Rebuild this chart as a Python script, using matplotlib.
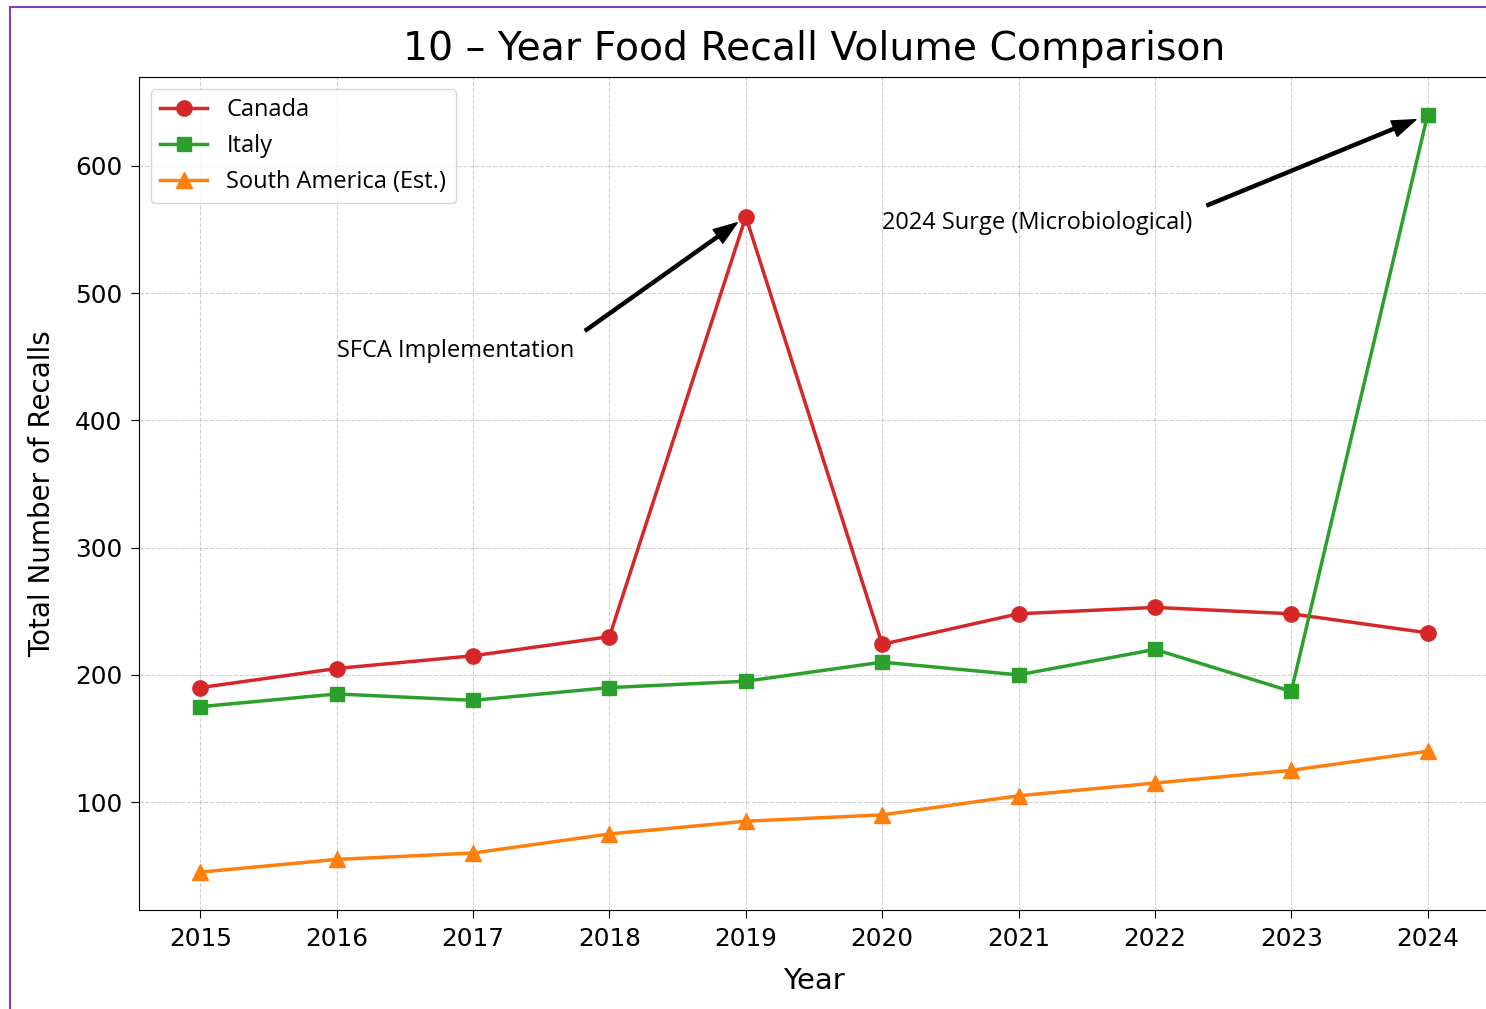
import matplotlib
matplotlib.use("Agg")
import matplotlib.pyplot as plt
from matplotlib.patches import Rectangle

plt.rcParams['font.family'] = ['DejaVu Sans']
note_font = ['Open Sans', 'DejaVu Sans']

years = [2015, 2016, 2017, 2018, 2019, 2020, 2021, 2022, 2023, 2024]
canada = [190, 205, 215, 230, 560, 224, 248, 253, 248, 233]
italy = [175, 185, 180, 190, 195, 210, 200, 220, 187, 640]
south_america = [45, 55, 60, 75, 85, 90, 105, 115, 125, 140]

W, H = 1486, 1009
fig = plt.figure(figsize=(W / 100, H / 100), dpi=100)
ax = fig.add_axes([139 / W, 1 - 910 / H, (1489 - 139) / W, (910 - 77) / H])

ax.plot(years, canada, color='#d62728', marker='o', lw=2.5, ms=11, label='Canada')
ax.plot(years, italy, color='#2ca02c', marker='s', lw=2.5, ms=10.5, label='Italy')
ax.plot(years, south_america, color='#ff7f0e', marker='^', lw=2.5, ms=11,
        label='South America (Est.)')

ax.set_title('10 – Year Food Recall Volume Comparison', fontsize=28.4, pad=12)
ax.set_xlabel('Year', fontsize=21, labelpad=12)
ax.set_ylabel('Total Number of Recalls', fontsize=20, labelpad=14)
ax.set_xticks(years)
ax.tick_params(axis='both', labelsize=17.8, length=6, pad=6)
ax.grid(True, linestyle='--', alpha=0.6)

arrow = dict(facecolor='black', edgecolor='black', shrink=0.05,
             width=2.2, headwidth=12, headlength=17)
ax.annotate('SFCA Implementation', xy=(2019, 560), xytext=(2016, 450),
            fontsize=17, family=note_font, arrowprops=arrow)
ax.annotate('2024 Surge (Microbiological)', xy=(2024, 640), xytext=(2020, 550),
            fontsize=17, family=note_font, arrowprops=arrow)

ax.legend(loc='upper left', prop={'family': note_font, 'size': 17})

# purple frame from the screenshot
fig.patches.append(Rectangle((10 / W, -0.1), 2, 1.1 - 7 / H, transform=fig.transFigure,
                             fill=False, edgecolor='#7d3fc0', lw=1.5))

fig.savefig('out.png', dpi=100)
